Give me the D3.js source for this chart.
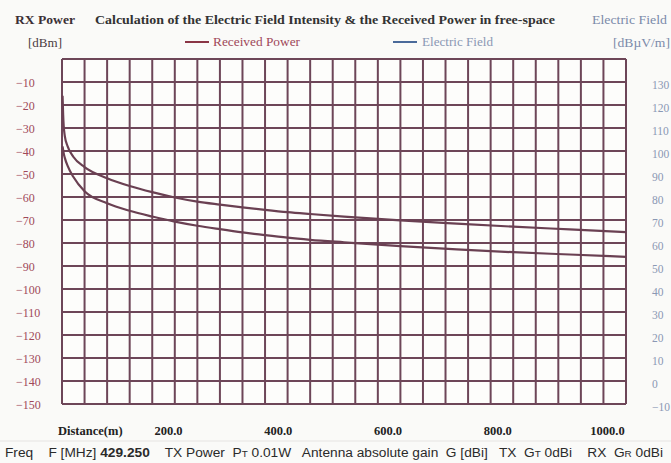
<!DOCTYPE html>
<html><head><meta charset="utf-8">
<script src="https://cdn.jsdelivr.net/npm/d3@7"></script>
<style>
html,body{margin:0;padding:0;background:#fafaf8;}
svg{display:block;}
</style></head>
<body>
<svg id="c" width="671" height="463"></svg>
<script>
// ---- data ----
const distances = [1, 2, 3, 5, 10, 20, 40, 80, 120, 160, 200, 240, 280, 320, 360, 400, 440, 500, 600, 700, 800, 900, 1000];
const receivedPower = [-16, -24, -29, -33.5, -38, -42.5, -47, -51.8, -55.2, -57.9, -60.2, -62, -63.3, -64.5, -65.6, -66.6, -67.4, -68.5, -70.2, -71.6, -72.9, -74.1, -75.3];
const electricField = [102, 100.5, 99, 97, 93.5, 88.8, 82.5, 77.3, 74, 71.5, 69.3, 67.5, 66, 64.6, 63.4, 62.3, 61.4, 60.3, 58.6, 57.2, 56, 55, 54];
const xTickLabels = [200, 400, 600, 800, 1000];
const leftTicks = [-10, -20, -30, -40, -50, -60, -70, -80, -90, -100, -110, -120, -130, -140, -150];
const rightTicks = [130, 120, 110, 100, 90, 80, 70, 60, 50, 40, 30, 20, 10, 0, -10];

const svg = d3.select("#c");
const X0 = 62, X1 = 626, Y0 = 59, Y1 = 404;
const x = d3.scaleLinear().domain([0, 1000]).range([X0, X1]);
const yL = d3.scaleLinear().domain([-150, 0]).range([Y1, Y0]);
const yR = d3.scaleLinear().domain([-10, 140]).range([Y1, Y0]);
const xLab = d3.scaleLinear().domain([200, 1000]).range([168, 607]);

const gridCol = "#6d4658";
const serif = "'Liberation Serif','DejaVu Serif',serif";
const sans = "'Liberation Sans',Arial,sans-serif";

// plot background
svg.append("rect").attr("x", X0).attr("y", Y0).attr("width", X1 - X0).attr("height", Y1 - Y0).attr("fill", "#fdfdfb");

// grid
const grid = svg.append("g").attr("stroke", gridCol).attr("stroke-width", 2);
grid.selectAll(".v").data(d3.range(0, 1001, 40)).join("line")
  .attr("x1", d => x(d)).attr("x2", d => x(d)).attr("y1", Y0).attr("y2", Y1);
grid.selectAll(".h").data(d3.range(-150, 1, 10)).join("line")
  .attr("x1", X0).attr("x2", X1).attr("y1", d => yL(d)).attr("y2", d => yL(d));

// curves
const pts = distances.map((d, i) => ({d, p: receivedPower[i], e: electricField[i]}));
const linePr = d3.line().x(d => x(d.d)).y(d => yL(d.p)).curve(d3.curveMonotoneX);
const lineE = d3.line().x(d => x(d.d)).y(d => yR(d.e)).curve(d3.curveMonotoneX);
svg.append("path").datum(pts).attr("d", linePr).attr("fill", "none").attr("stroke", "#6a4052").attr("stroke-width", 2.2);
svg.append("path").datum(pts).attr("d", lineE).attr("fill", "none").attr("stroke", "#6a4052").attr("stroke-width", 2.2);

// left axis
const la = svg.append("g").attr("transform", `translate(${X0},0)`)
  .call(d3.axisLeft(yL).tickValues(leftTicks).tickSize(0).tickFormat(d3.format("d")));
la.select(".domain").remove();
la.selectAll("text").attr("x", 16 - X0).attr("text-anchor", "start").attr("dy", "0.4em")
  .attr("fill", "#a04858").style("font-family", serif).style("font-size", "12px");

// right axis
const ra = svg.append("g").attr("transform", `translate(${X1},0)`)
  .call(d3.axisRight(yR).tickValues(rightTicks).tickSize(0).tickFormat(d3.format("d")));
ra.select(".domain").remove();
ra.selectAll("text").attr("x", 652 - X1).attr("text-anchor", "start").attr("dy", "0.55em")
  .attr("fill", "#8a98b4").style("font-family", serif).style("font-size", "11.5px");

// bottom labels
const ba = svg.append("g").attr("transform", `translate(0,${Y1})`)
  .call(d3.axisBottom(xLab).tickValues(xTickLabels).tickSize(0).tickFormat(d3.format(".1f")));
ba.select(".domain").remove();
ba.selectAll("text").attr("y", 31).attr("dy", 0).attr("fill", "#222")
  .style("font-family", serif).style("font-size", "12.5px").style("font-weight", "bold");

svg.append("text").attr("x", 58).attr("y", 435).text("Distance(m)")
  .attr("fill", "#222").style("font-family", serif).style("font-size", "12.5px").style("font-weight", "bold");

// header
function hdr(t, xx, yy, w, col, bold) {
  svg.append("text").attr("x", xx).attr("y", yy).text(t)
    .attr("textLength", w).attr("lengthAdjust", "spacingAndGlyphs")
    .attr("fill", col).style("font-family", serif).style("font-size", "12px")
    .style("font-weight", bold ? "bold" : "normal");
}
hdr("RX Power", 15, 24, 60, "#3a3035", true);
hdr("[dBm]", 28, 47, 34, "#4a3a42", false);
hdr("Calculation of the Electric Field Intensity & the Received Power in free-space", 95, 24, 460, "#333", true);
hdr("Electric Field", 592, 24, 75, "#7a8aaa", false);
hdr("[dBµV/m]", 613, 47, 57, "#7a8aaa", false);

// legend
svg.append("line").attr("x1", 185).attr("x2", 209).attr("y1", 42).attr("y2", 42).attr("stroke", "#8a3545").attr("stroke-width", 2);
hdr("Received Power", 213, 46, 87, "#a04858", false);
svg.append("line").attr("x1", 393).attr("x2", 417).attr("y1", 42).attr("y2", 42).attr("stroke", "#4a6a9a").attr("stroke-width", 2);
hdr("Electric Field", 422, 46, 71, "#8a98b4", false);

// footer
svg.append("line").attr("x1", 0).attr("x2", 671).attr("y1", 441).attr("y2", 441).attr("stroke", "#e6e4e2").attr("stroke-width", 1);
const ft = svg.append("text").attr("x", 5).attr("y", 457)
  .attr("fill", "#2a2a2a").style("font-family", sans).style("font-size", "12.5px")
  .style("white-space", "pre")
  .attr("textLength", 658).attr("lengthAdjust", "spacingAndGlyphs");
ft.append("tspan").text("Freq    F [MHz] ");
ft.append("tspan").text("429.250").style("font-weight", "bold");
ft.append("tspan").text("    TX Power  P");
ft.append("tspan").text("T").style("font-size", "9px");
ft.append("tspan").text(" 0.01W   Antenna absolute gain  G [dBi]   TX  G");
ft.append("tspan").text("T").style("font-size", "9px");
ft.append("tspan").text(" 0dBi    RX  G");
ft.append("tspan").text("R").style("font-size", "9px");
ft.append("tspan").text(" 0dBi");
</script>
</body></html>
